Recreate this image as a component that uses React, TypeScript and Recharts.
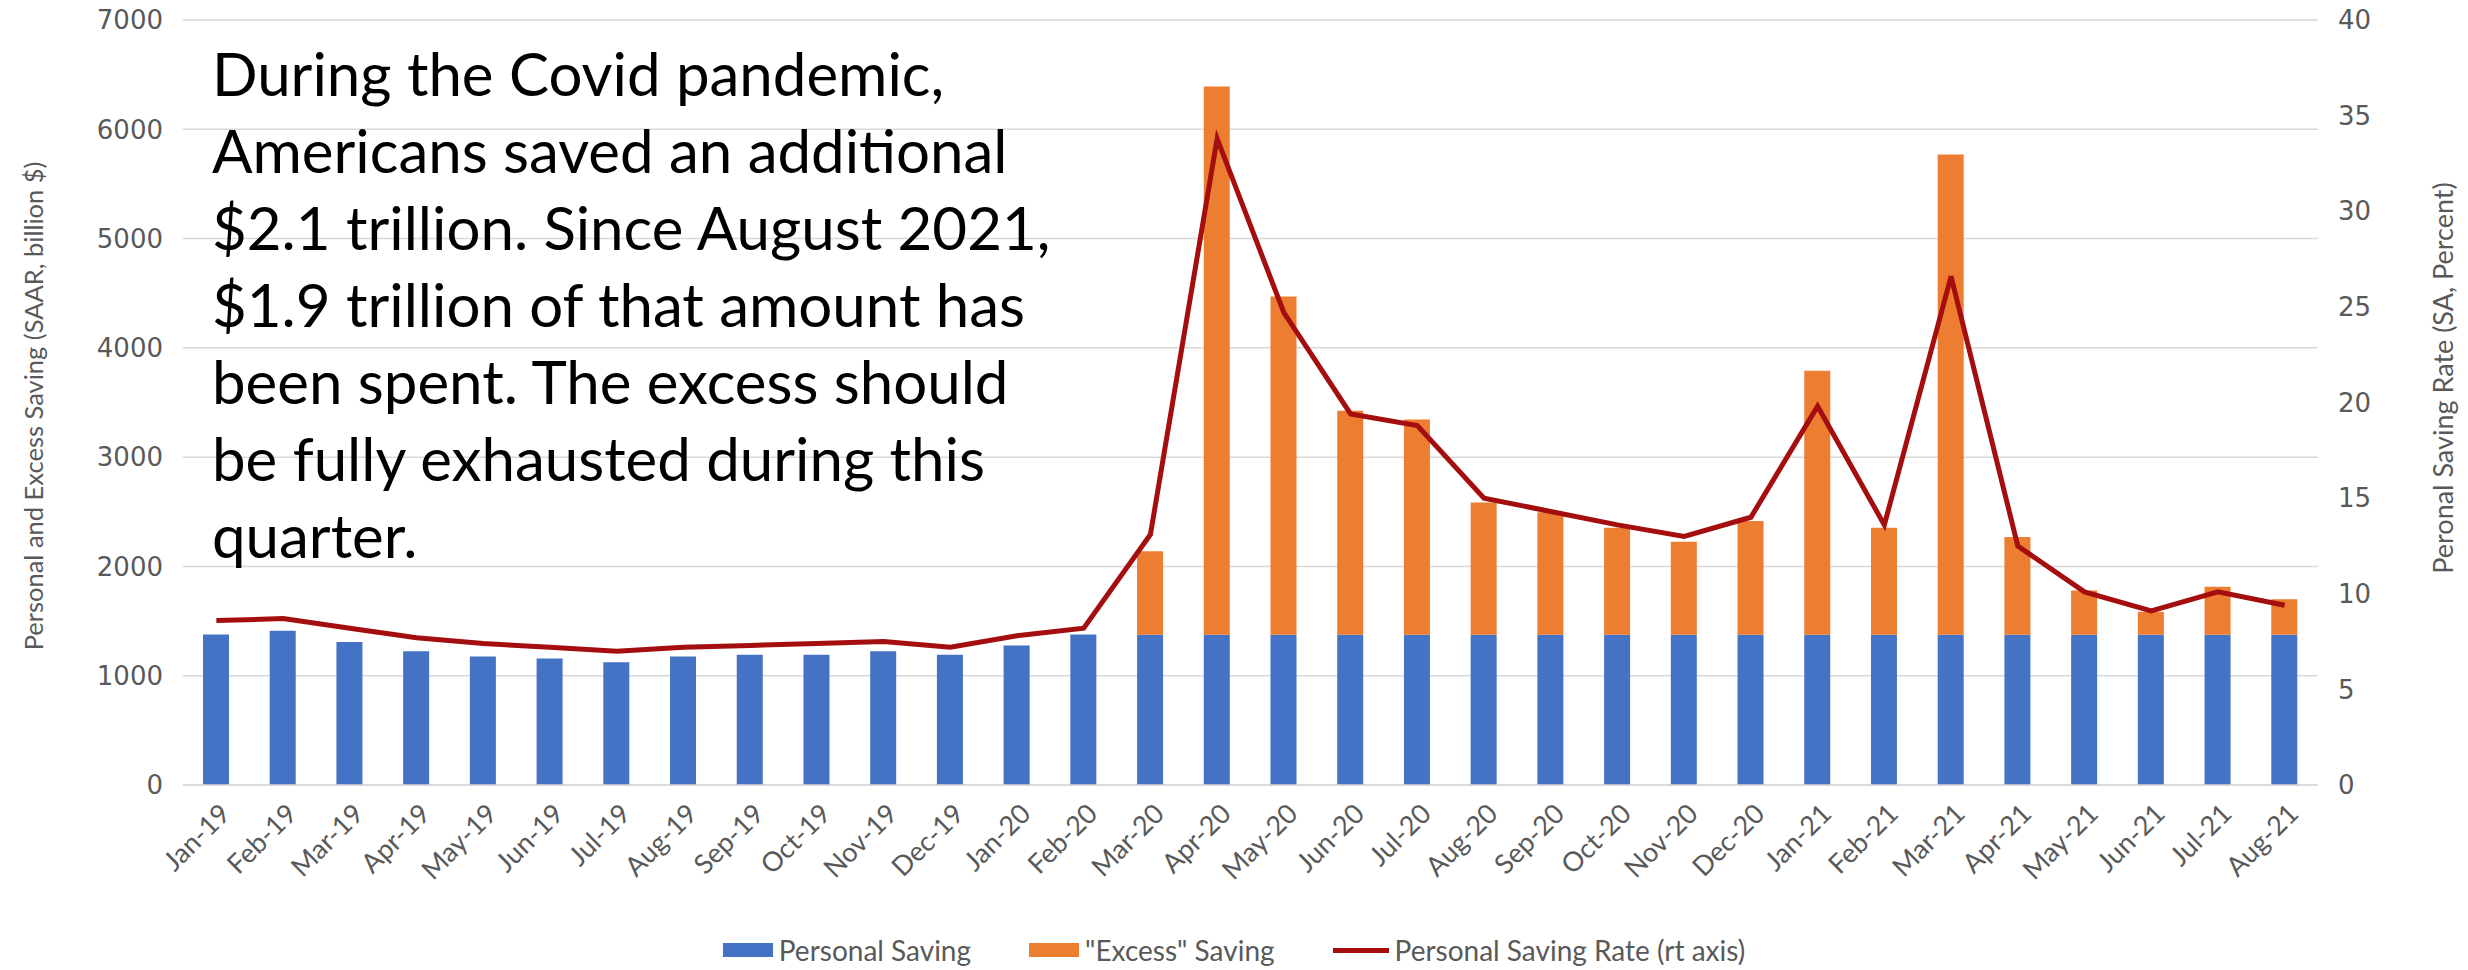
import React from "react";
import {
  Bar,
  CartesianGrid,
  ComposedChart,
  Label,
  Legend,
  Line,
  XAxis,
  YAxis,
} from "recharts";

const MONTHS = [
  "Jan-19", "Feb-19", "Mar-19", "Apr-19", "May-19", "Jun-19", "Jul-19", "Aug-19",
  "Sep-19", "Oct-19", "Nov-19", "Dec-19", "Jan-20", "Feb-20", "Mar-20", "Apr-20",
  "May-20", "Jun-20", "Jul-20", "Aug-20", "Sep-20", "Oct-20", "Nov-20", "Dec-20",
  "Jan-21", "Feb-21", "Mar-21", "Apr-21", "May-21", "Jun-21", "Jul-21", "Aug-21",
];

const PERSONAL_SAVING = [
  1376, 1412, 1309, 1224, 1176, 1158, 1124, 1176, 1191, 1191, 1224, 1191, 1276, 1376,
  1375, 1375, 1375, 1375, 1375, 1375, 1375, 1375, 1375, 1375,
  1375, 1375, 1375, 1375, 1375, 1375, 1375, 1375,
];

const EXCESS_SAVING = [
  0, 0, 0, 0, 0, 0, 0, 0, 0, 0, 0, 0, 0, 0,
  765, 5017, 3095, 2050, 1970, 1210, 1120, 980, 850, 1040,
  2415, 980, 4395, 895, 405, 210, 440, 325,
];

const SAVING_RATE = [
  8.6, 8.7, 8.2, 7.7, 7.4, 7.2, 7.0, 7.2, 7.3, 7.4, 7.5, 7.2, 7.8, 8.2,
  13.1, 33.8, 24.7, 19.4, 18.8, 15.0, 14.3, 13.6, 13.0, 14.0,
  19.8, 13.6, 26.6, 12.5, 10.1, 9.1, 10.1, 9.4,
];

const LEFT_TICKS = [0, 1000, 2000, 3000, 4000, 5000, 6000, 7000];
const RIGHT_TICKS = [0, 5, 10, 15, 20, 25, 30, 35, 40];

const NOTE_LINES = [
  "During the Covid pandemic,",
  "Americans saved an additional",
  "$2.1 trillion. Since August 2021,",
  "$1.9 trillion of that amount has",
  "been spent. The excess should",
  "be fully exhausted during this",
  "quarter.",
];

const data = MONTHS.map((m, i) => ({
  month: m,
  personal: PERSONAL_SAVING[i],
  excess: EXCESS_SAVING[i],
  rate: SAVING_RATE[i],
}));

const BLUE = "#4472C4";
const ORANGE = "#ED7D31";
const RED = "#A50E0E";
const GRAY = "#595959";
const CALIBRI = "Lato, 'Noto Sans', sans-serif";

function MonthTick(props: any) {
  const { x, y, payload } = props;
  return (
    <g transform={`translate(${x + 8},${y + 15})`}>
      <text
        transform="rotate(-45)"
        textAnchor="end"
        dominantBaseline="central"
        fontFamily={CALIBRI}
        fontSize={27}
        fill={GRAY}
      >
        {payload.value}
      </text>
    </g>
  );
}

function LegendRow() {
  const item = { display: "flex", alignItems: "center" } as const;
  const txt = { fontFamily: CALIBRI, fontSize: 28, color: GRAY, marginLeft: 6 };
  return (
    <div style={{ display: "flex", justifyContent: "center", alignItems: "center", gap: 58 }}>
      <span style={item}>
        <span style={{ width: 50, height: 14, background: BLUE, display: "inline-block" }} />
        <span style={txt}>Personal Saving</span>
      </span>
      <span style={item}>
        <span style={{ width: 50, height: 14, background: ORANGE, display: "inline-block" }} />
        <span style={txt}>"Excess" Saving</span>
      </span>
      <span style={item}>
        <span style={{ width: 56, height: 5, background: RED, display: "inline-block" }} />
        <span style={txt}>Personal Saving Rate (rt axis)</span>
      </span>
    </div>
  );
}

export default function App() {
  return (
    <div style={{ position: "fixed", left: 0, top: 0, width: 2468, height: 970, background: "#fff" }}>
      <ComposedChart
        width={2468}
        height={970}
        data={data}
        margin={{ top: 20, right: 0, bottom: 0, left: 0 }}
        barSize={26}
      >
        <CartesianGrid yAxisId="left" vertical={false} stroke="#d9d9d9" strokeWidth={1.5} />
        <XAxis
          dataKey="month"
          height={185}
          interval={0}
          tickLine={false}
          axisLine={{ stroke: "#d9d9d9", strokeWidth: 1.5 }}
          tick={<MonthTick />}
        />
        <YAxis
          yAxisId="left"
          width={183}
          domain={[0, 7000]}
          ticks={LEFT_TICKS}
          tickLine={false}
          axisLine={false}
          tickSize={0}
          tickMargin={20}
          tick={{ fill: GRAY, fontSize: 26, fontFamily: "'DejaVu Sans', sans-serif" }}
        >
          <Label
            content={({ viewBox }: any) => (
              <text
                transform={`translate(${viewBox.x + 33},406) rotate(-90)`}
                textAnchor="middle"
                dominantBaseline="central"
                fontFamily={CALIBRI}
                fontSize={25.5}
                fill={GRAY}
              >
                Personal and Excess Saving (SAAR, billion $)
              </text>
            )}
          />
        </YAxis>
        <YAxis
          yAxisId="right"
          orientation="right"
          width={150}
          domain={[0, 40]}
          ticks={RIGHT_TICKS}
          tickLine={false}
          axisLine={false}
          tickSize={0}
          tickMargin={20}
          tick={{ fill: GRAY, fontSize: 26, fontFamily: "'DejaVu Sans', sans-serif", textAnchor: "start" }}
        >
          <Label
            content={({ viewBox }: any) => (
              <text
                transform={`translate(${viewBox.x + viewBox.width - 26},378) rotate(-90)`}
                textAnchor="middle"
                dominantBaseline="central"
                fontFamily={CALIBRI}
                fontSize={27}
                fill={GRAY}
              >
                Peronal Saving Rate (SA, Percent)
              </text>
            )}
          />
        </YAxis>
        <Bar yAxisId="left" dataKey="personal" name="Personal Saving" stackId="s" fill={BLUE} isAnimationActive={false} />
        <Bar yAxisId="left" dataKey="excess" name={'"Excess" Saving'} stackId="s" fill={ORANGE} isAnimationActive={false} />
        <Line
          yAxisId="right"
          dataKey="rate"
          name="Personal Saving Rate (rt axis)"
          type="linear"
          stroke={RED}
          strokeWidth={5}
          dot={false}
          isAnimationActive={false}
        />
        <Legend
          layout="horizontal"
          verticalAlign="middle"
          align="center"
          wrapperStyle={{ left: 0, top: 933, width: 2468 }}
          content={() => <LegendRow />}
        />
      </ComposedChart>
      <div
        style={{
          position: "absolute",
          left: 212,
          top: 35,
          fontFamily: CALIBRI,
          fontSize: 60,
          lineHeight: "77px",
          color: "#000",
          whiteSpace: "pre",
        }}
      >
        {NOTE_LINES.map((l) => (
          <div key={l}>{l}</div>
        ))}
      </div>
    </div>
  );
}
